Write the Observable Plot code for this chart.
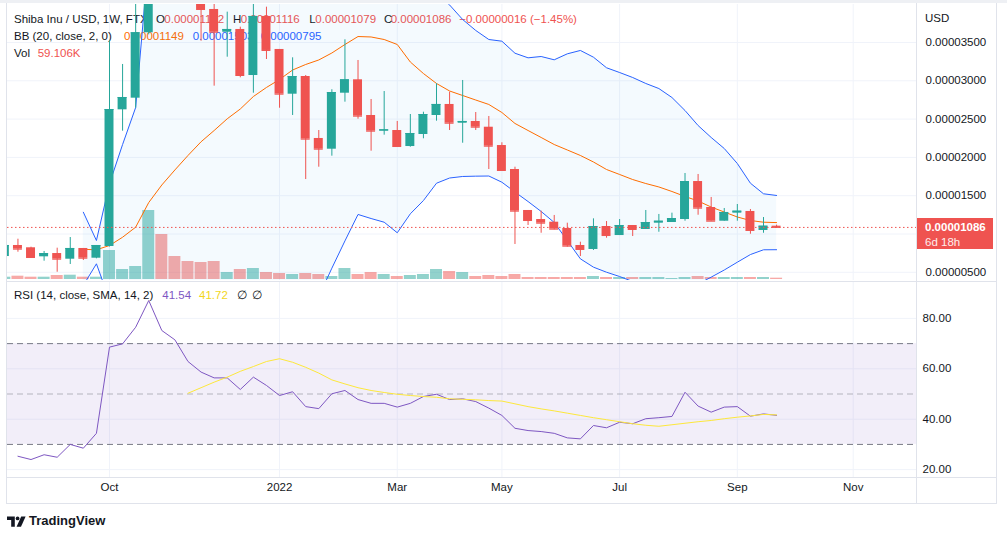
<!DOCTYPE html>
<html><head><meta charset="utf-8">
<script src="https://cdn.jsdelivr.net/npm/d3@7"></script>
<script src="https://cdn.jsdelivr.net/npm/@observablehq/plot@0.6"></script>
<style>
html,body{margin:0;padding:0;background:#fff;}
body{width:1007px;height:539px;overflow:hidden;font-family:"Liberation Sans",Arial,sans-serif;}
#chart{position:absolute;left:0;top:0;width:1007px;height:539px;}
.t{position:absolute;font-size:11.5px;line-height:14px;white-space:pre;color:#131722;}
.ln{position:absolute;background:#e0e3eb;}
.clip{position:absolute;overflow:hidden;}
svg{max-width:none !important;}
</style></head><body><div id="chart"></div>
<script>
// ---- DATA (prices in units of 0.00001 USD, volume in K) ----
const dates = ["2021-08-09","2021-08-16","2021-08-23","2021-08-30","2021-09-06","2021-09-13","2021-09-20","2021-09-27",
"2021-10-04","2021-10-11","2021-10-18","2021-10-25","2021-11-01","2021-11-08","2021-11-15","2021-11-22","2021-11-29",
"2021-12-06","2021-12-13","2021-12-20","2021-12-27","2022-01-03","2022-01-10","2022-01-17","2022-01-24","2022-01-31",
"2022-02-07","2022-02-14","2022-02-21","2022-02-28","2022-03-07","2022-03-14","2022-03-21","2022-03-28","2022-04-04",
"2022-04-11","2022-04-18","2022-04-25","2022-05-02","2022-05-09","2022-05-16","2022-05-23","2022-05-30","2022-06-06",
"2022-06-13","2022-06-20","2022-06-27","2022-07-04","2022-07-11","2022-07-18","2022-07-25","2022-08-01","2022-08-08",
"2022-08-15","2022-08-22","2022-08-29","2022-09-05","2022-09-12","2022-09-19","2022-09-26"];
const open = [0.706,0.850,0.820,0.702,0.745,0.671,0.811,0.684,
0.837,2.621,2.773,3.627,5.67,5.35,4.80,4.30,3.931,3.634,3.670,3.069,3.840,3.409,2.825,3.056,2.247,2.107,2.838,3.013,2.547,2.342,
2.351,2.142,2.299,2.547,2.691,2.446,2.469,2.394,2.155,1.842,1.307,1.189,1.154,1.072,0.850,0.798,1.098,0.980,1.111,1.059,
1.141,1.150,1.189,1.685,1.346,1.167,1.272,1.294,1.046,1.102];
const high = [0.86,0.932,0.828,0.772,0.815,0.954,0.811,0.850,
3.52,3.213,4.40,8.86,6.30,5.50,5.00,4.45,4.05,3.896,3.70,4.05,3.961,3.409,3.300,3.069,2.351,2.883,3.535,3.265,2.756,2.860,
2.469,2.560,2.590,2.961,2.851,3.004,2.586,2.534,2.191,1.872,1.307,1.298,1.242,1.141,0.893,1.198,1.163,1.189,1.111,1.307,
1.255,1.272,1.790,1.777,1.477,1.333,1.385,1.320,1.215,1.116];
const low = [0.70,0.762,0.684,0.645,0.501,0.602,0.654,0.676,
0.83,2.342,2.642,3.60,4.90,4.60,4.05,3.517,2.930,3.308,3.039,2.838,3.278,2.642,2.547,1.711,1.872,2.016,2.721,2.499,2.081,2.290,
2.133,2.133,2.243,2.473,2.351,2.185,2.351,1.842,1.829,0.863,1.111,1.010,1.055,0.828,0.706,0.785,0.945,0.980,0.967,1.059,
1.023,1.150,1.167,1.245,1.167,1.167,1.167,0.997,1.010,1.079];
const close = [0.850,0.802,0.693,0.745,0.671,0.811,0.684,0.850,
2.625,2.782,3.627,5.67,5.35,4.80,4.30,3.931,3.634,3.670,3.069,3.840,3.396,2.825,3.056,2.238,2.107,2.847,3.013,2.538,2.342,2.360,
2.142,2.312,2.560,2.691,2.446,2.469,2.394,2.146,1.829,1.298,1.176,1.141,1.063,0.841,0.798,1.098,0.980,1.111,1.059,1.150,
1.167,1.202,1.685,1.337,1.167,1.281,1.298,1.046,1.102,1.086];
const volume = [104,149,104,104,180,194,104,104,
1305,450,585,3105,2025,1035,810,765,810,315,450,495,315,270,225,270,225,135,495,225,315,225,
135,180,225,450,360,315,135,180,135,225,90,90,90,90,90,135,90,90,90,90,
90,45,90,135,90,90,90,90,90,59.106];
const bbBasis = [null,null,null,null,null,null,0.80,0.794,
0.850,0.958,1.089,1.411,1.640,1.836,2.025,2.204,2.351,2.504,2.632,2.795,2.913,3.017,3.141,3.213,3.272,3.363,3.474,3.578,3.572,3.539,
3.474,3.245,3.095,2.965,2.867,2.808,2.749,2.691,2.586,2.443,2.351,2.260,2.168,2.097,2.025,1.940,1.842,1.777,1.711,1.659,
1.614,1.555,1.490,1.431,1.352,1.287,1.222,1.176,1.154,1.149];
const bbUpper = [null,null,null,null,null,null,1.284,0.915,
1.657,2.168,2.651,4.62,5.8,6.6,7.2,7.5,7.7,7.8,7.8,7.7,7.5,7.2,6.8,6.5,6.2,5.8,5.4,5.1,4.9,4.7,
4.55,4.4,4.3,4.15,3.990,3.800,3.657,3.539,3.517,3.360,3.300,3.317,3.274,3.352,3.396,3.308,3.170,3.108,3.043,2.965,
2.899,2.782,2.612,2.416,2.260,2.116,1.920,1.663,1.525,1.503];
const bbLower = [null,null,null,null,null,null,0.33,0.611,
0.138,-0.25,-0.67,-1.8,-2.1,-2.2,-2.1,-1.9,-1.6,-1.3,-1.0,-0.75,-0.5,-0.3,-0.1,0.0,0.184,0.554,0.910,1.255,1.202,1.154,
1.016,1.264,1.437,1.663,1.731,1.751,1.755,1.757,1.676,1.548,1.424,1.294,1.150,0.915,0.676,0.567,0.501,0.445,0.38,0.30,
0.26,0.25,0.22,0.347,0.437,0.530,0.632,0.732,0.794,0.795];
const rsi = [null,25.3,24.0,25.9,24.9,30.0,28.5,34.4,
68.6,69.9,76.5,87.1,75.2,71.5,62.9,58.7,56.4,56.4,51.8,56.7,53.4,49.4,50.9,45.0,44.2,50.1,51.4,47.8,46.3,46.3,
44.8,46.3,49.0,49.9,47.8,48.1,47.0,44.4,41.5,36.4,35.5,35.1,34.4,32.6,32.2,37.5,36.6,38.8,38.2,40.2,
40.6,41.1,50.7,45.2,42.8,44.8,45.0,41.2,42.1,41.54];
const rsiMA = [null,null,null,null,null,null,null,null,
null,null,null,null,null,null,50.3,52.5,54.7,56.7,59.0,60.9,62.9,64.0,62.6,60.6,58.3,55.6,54.0,52.5,51.4,50.6,
49.9,49.4,49.0,48.7,48.1,47.9,47.7,47.4,47.2,46.1,45.0,44.1,43.3,42.4,41.5,40.6,39.8,39.0,38.2,37.6,
37.2,37.8,38.4,39.0,39.5,40.2,40.8,41.3,41.9,41.72];
const priceTicks = [0.5,1.5,2.0,2.5,3.0,3.5];
const priceGrid = [0.5,1.0,1.5,2.0,2.5,3.0,3.5];
const rsiTicks = [20,40,60,80];
const xTickDates = ["2021-10-04","2022-01-03","2022-03-07","2022-05-02","2022-07-04","2022-09-05","2022-11-06"];
const xTickLabels = ["Oct","2022","Mar","May","Jul","Sep","Nov"];

// ---- SETUP ----
const UNIT = 1e-5, DAY = 864e5;
const UP = "#26a69a", DOWN = "#ef5350", GRID = "#f0f3fa", TXT = "#131722";
const FONT = '"Liberation Sans", Arial, sans-serif';
const rows = dates.map((d, i) => ({date: new Date(d + "T00:00Z"), open: open[i], high: high[i], low: low[i], close: close[i],
  volume: volume[i], basis: bbBasis[i], upper: bbUpper[i], lower: bbLower[i], rsi: rsi[i], rsiMA: rsiMA[i]}));
const ups = rows.filter(d => d.close >= d.open), downs = rows.filter(d => d.close < d.open);
const xTicks = xTickDates.map((d, i) => ({date: new Date(d + "T00:00Z"), label: xTickLabels[i]}));
const anchor = Date.UTC(2021, 9, 4);
const xDomain = [new Date(anchor - 54.59 * DAY), new Date(anchor + 431.88 * DAY)];
const priceDomain = [0.393, 3.996];
const chart = document.getElementById("chart");

const baseStyle = {background: "transparent", fontFamily: FONT, fontSize: "11.5px", color: TXT, overflow: "visible", maxWidth: "none"};
const mainBase = {width: 1007, height: 280, marginLeft: 7, marginRight: 91, marginTop: 4, marginBottom: 0,
  x: {type: "utc", domain: xDomain, axis: null}, y: {domain: priceDomain, axis: null}, style: baseStyle};
const bx1 = d => new Date(+d.date - 2.4 * DAY), bx2 = d => new Date(+d.date + 2.4 * DAY);
const vx1 = d => new Date(+d.date - 3.2 * DAY), vx2 = d => new Date(+d.date + 3.2 * DAY);

function place(svg, left, top) {
  Object.assign(svg.style, {position: "absolute", left: left + "px", top: top + "px", maxWidth: "none",
    width: svg.getAttribute("width") + "px", height: svg.getAttribute("height") + "px"});
  return svg;
}
function clipped(svg) {
  const div = document.createElement("div"); div.className = "clip";
  Object.assign(div.style, {left: "7px", top: "4px", width: "909px", height: "276px"});
  place(svg, -7, -4); div.appendChild(svg); chart.appendChild(div);
}
function txt(s, left, cy, color, extra) {
  const e = document.createElement("div"); e.className = "t"; e.textContent = s;
  e.style.left = left + "px"; e.style.top = (cy - 7) + "px"; if (color) e.style.color = color;
  if (extra) Object.assign(e.style, extra); chart.appendChild(e); return e;
}
function line(l, t, w, h, c) { const e = document.createElement("div"); e.className = "ln";
  Object.assign(e.style, {left: l + "px", top: t + "px", width: w + "px", height: h + "px"}); if (c) e.style.background = c; chart.appendChild(e); }

// 1. grid layer
const gridPlot = Plot.plot({...mainBase, style: {...baseStyle, background: "#fff"}, marks: [
  Plot.ruleX(xTicks, {x: "date", stroke: GRID}),
  Plot.ruleY(priceGrid, {stroke: GRID})
]});
chart.appendChild(place(gridPlot, 0, 0));

// 2. legend text (under candles)
txt("Shiba Inu / USD, 1W, FTX", 14, 19);
txt("O", 156, 19); txt("0.00001102", 164.3, 19, DOWN);
txt("H", 233, 19); txt("0.00001116", 240.7, 19, DOWN);
txt("L", 309.3, 19); txt("0.00001079", 315.3, 19, DOWN);
txt("C", 384, 19); txt("0.00001086", 390.7, 19, DOWN);
txt("\u22120.00000016 (\u22121.45%)", 459.3, 19, DOWN);
txt("BB (20, close, 2, 0)", 14, 36);
txt("0.00001149", 124, 36, "#ff6d00"); txt("0.00001503", 192.7, 36, "#2962ff"); txt("0.00000795", 260.7, 36, "#2962ff");
txt("Vol", 14, 52.5); txt("59.106K", 37.7, 52.5, DOWN);

// 3. volume layer
clipped(Plot.plot({...mainBase, y: {domain: [-45, 12375], axis: null}, marks: [
  Plot.rect(ups, {x1: vx1, x2: vx2, y1: () => 0, y2: "volume", fill: UP, fillOpacity: 0.5}),
  Plot.rect(downs, {x1: vx1, x2: vx2, y1: () => 0, y2: "volume", fill: DOWN, fillOpacity: 0.5})
]}));

// 4. price layer
const lastClose = close[close.length - 1];
clipped(Plot.plot({...mainBase, marks: [
  Plot.areaY(rows, {x: "date", y1: "lower", y2: "upper", fill: "#2196f3", fillOpacity: 0.05}),
  Plot.line(rows, {x: "date", y: "upper", stroke: "#2962ff", strokeWidth: 1}),
  Plot.line(rows, {x: "date", y: "lower", stroke: "#2962ff", strokeWidth: 1}),
  Plot.line(rows, {x: "date", y: "basis", stroke: "#ff6d00", strokeWidth: 1}),
  Plot.ruleX(ups, {x: "date", y1: "low", y2: "high", stroke: UP}),
  Plot.ruleX(downs, {x: "date", y1: "low", y2: "high", stroke: DOWN}),
  Plot.rect(ups, {x1: bx1, x2: bx2, y1: "open", y2: "close", fill: UP}),
  Plot.rect(downs, {x1: bx1, x2: bx2, y1: "open", y2: "close", fill: DOWN}),
  Plot.ruleY(ups, {x1: bx1, x2: bx2, y: "close", stroke: UP}),
  Plot.ruleY(downs, {x1: bx1, x2: bx2, y: "close", stroke: DOWN}),
  Plot.ruleY([lastClose], {stroke: DOWN, strokeDasharray: "1.5,2.5"})
]}));

// 5. price axis layer
const axisPlot = Plot.plot({...mainBase, marks: [
  Plot.text(priceTicks, {y: d => d, text: d => (d * UNIT).toFixed(8), frameAnchor: "right", textAnchor: "start", dx: 9, fontSize: 11.5, fill: TXT})
]});
chart.appendChild(place(axisPlot, 0, 0));
txt("USD", 925, 17.5);

// current price label
let yLast;
try { yLast = gridPlot.scale("y").apply(lastClose); } catch (e) { yLast = 227; }
const box = document.createElement("div");
Object.assign(box.style, {position: "absolute", left: "916px", top: (yLast - 8.5) + "px", width: "77px", height: "31px", background: DOWN});
chart.appendChild(box);
txt((lastClose * UNIT).toFixed(8), 925, yLast, "#fff", {fontWeight: "bold"});
txt("6d 18h", 925, yLast + 15, "#fff", {opacity: 0.9});

// 6. RSI pane with time axis
const rsiPlot = Plot.plot({width: 1007, height: 221, marginLeft: 7, marginRight: 91, marginTop: 0, marginBottom: 26,
  x: {type: "utc", domain: xDomain, axis: null}, y: {domain: [16.87, 94.25], axis: null}, style: {...baseStyle, background: "#fff"},
  marks: [
    Plot.ruleX(xTicks, {x: "date", stroke: GRID}),
    Plot.ruleY(rsiTicks, {stroke: GRID}),
    Plot.rect([0], {x1: () => xDomain[0], x2: () => xDomain[1], y1: () => 30, y2: () => 70, fill: "#7e57c2", fillOpacity: 0.1}),
    Plot.ruleY([70, 30], {stroke: "#787b86", strokeDasharray: "6,4"}),
    Plot.ruleY([50], {stroke: "#787b86", strokeOpacity: 0.5, strokeDasharray: "6,4"}),
    Plot.line(rows, {x: "date", y: "rsi", stroke: "#7e57c2", strokeWidth: 1}),
    Plot.line(rows, {x: "date", y: "rsiMA", stroke: "#fde83b", strokeWidth: 1}),
    Plot.text(rsiTicks, {y: d => d, text: d => d.toFixed(2), frameAnchor: "right", textAnchor: "start", dx: 6, fontSize: 11.5, fill: TXT}),
    Plot.text(xTicks, {x: "date", text: "label", frameAnchor: "bottom", dy: 13, fontSize: 11.5, fill: TXT,
      fontWeight: d => d.label === "2022" ? "bold" : "normal"})
  ]});
chart.appendChild(place(rsiPlot, 0, 282));
txt("RSI (14, close, SMA, 14, 2)", 14, 295);
txt("41.54", 162.3, 295, "#7e57c2"); txt("41.72", 199, 295, "#f2d61a");
txt("\u2205", 237, 295); txt("\u2205", 251.7, 295);

// frame lines
line(0, 0, 1007, 3, "#eef0f4");
line(6, 3, 1, 500); line(996, 3, 1, 500);
line(916, 3, 1, 500);
line(6, 281, 991, 1);
line(6, 477, 991, 1);
line(6, 503, 991, 1);

// TradingView logo
const logo = document.createElement("div");
Object.assign(logo.style, {position: "absolute", left: "7px", top: "514px"});
logo.innerHTML = '<svg width="20" height="13" viewBox="0 0 20 13"><path d="M0 1.5h7.8v10.2H4.2V5.1H0z" fill="#131722"/><circle cx="10.6" cy="3.4" r="1.9" fill="#131722"/><path d="M14.2 1.5h4.4l-4.6 10.2H9.6z" fill="#131722"/></svg>';
chart.appendChild(logo);
txt("TradingView", 29, 521, TXT, {fontSize: "13px", fontWeight: "600"});
</script></body></html>
